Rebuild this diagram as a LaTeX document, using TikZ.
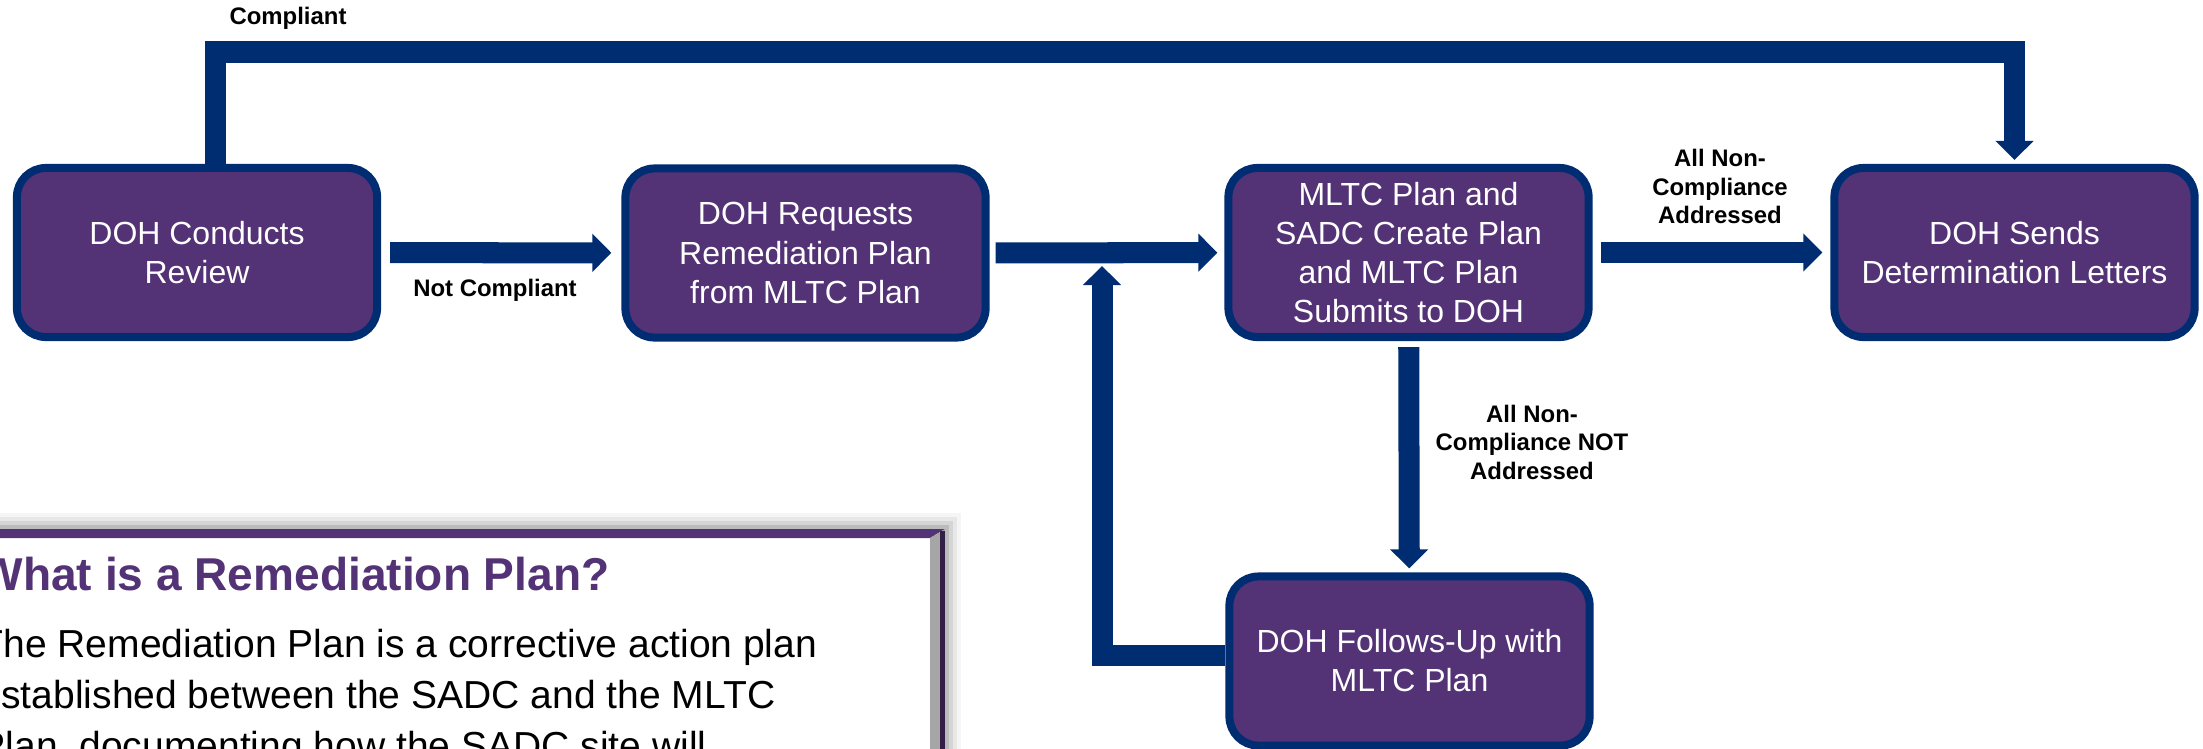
\documentclass[tikz,border=0pt]{standalone}
\usepackage{fontspec}
\setmainfont{Liberation Sans}
\usetikzlibrary{arrows.meta}

\definecolor{dohnavy}{RGB}{0,45,114}
\definecolor{dohpurple}{RGB}{83,50,118}

\begin{document}
\begin{tikzpicture}[x=0.01cm, y=-0.01cm,
    stepbox/.style={rectangle, rounded corners=0.29cm, draw=dohnavy, line width=0.08cm,
      fill=dohpurple, text=white, minimum width=3.6cm, minimum height=1.69cm,
      inner sep=0pt, align=center, font=\fontsize{9.1}{11.1}\selectfont},
    flowline/.style={draw=dohnavy, line width=0.21cm,
      -{Triangle[length=0.19cm, width=0.37cm]}},
    edgetag/.style={align=center, inner sep=0pt, font=\bfseries\fontsize{6.8}{8.1}\selectfont}]

  \useasboundingbox (0,0) rectangle (2203,748);
  \clip (0,0) rectangle (2203,748);

  % note box at the bottom left, with a soft shadow and bevelled frame
  \foreach \s/\o in {16/0.04, 12/0.06, 8/0.08, 4/0.12}
    \fill[black, opacity=\o] (-80-\s,529-\s) rectangle (945+\s,800);
  \fill[white] (-80,529) rectangle (945,800);
  \fill[dohpurple] (-80,529) -- (945,529) -- (930,538) -- (-80,538) -- cycle;
  \fill[gray!70] (930,538) -- (945,529) -- (945,800) -- (930,800) -- cycle;
  \fill[dohpurple!60!black] (940,531) rectangle (945,800);

  \node[anchor=base west, inner sep=0pt, text=dohpurple,
    font=\bfseries\fontsize{13.1}{15}\selectfont] (notetitle) at (-21,590)
    {What is a Remediation Plan?};
  % base of a multi-line node sits on its last line
  \node[anchor=base west, inner sep=0pt, align=left,
    font=\fontsize{11.1}{14.5}\selectfont] (notebody) at (-21,759)
    {The Remediation Plan is a corrective action plan\\
     established between the SADC and the MLTC\\
     Plan, documenting how the SADC site will};

  % process steps
  \node[stepbox] (review) at (197,252.5) {DOH Conducts\\Review};
  \node[stepbox] (request) at (805.5,253) {DOH Requests\\Remediation Plan\\from MLTC Plan};
  \node[stepbox] (create) at (1408.5,252.5) {MLTC Plan and\\SADC Create Plan\\and MLTC Plan\\Submits to DOH};
  \node[stepbox] (letters) at (2014.5,252.5) {DOH Sends\\Determination Letters};
  \node[stepbox] (followup) at (1409.5,661) {DOH Follows-Up with\\MLTC Plan};

  % connectors
  \coordinate (ctop) at (215.5,52);
  \coordinate (loopin) at (1102,266);

  \draw[flowline, shorten >=0.04cm] (review.north -| ctop) -- (ctop) -| (letters.north);
  \draw[flowline, shorten <=0.09cm, shorten >=0.1cm] (review) -- (request);
  \draw[flowline, shorten <=0.06cm, shorten >=0.07cm] (request) -- (create);
  \draw[flowline, shorten <=0.08cm, shorten >=0.08cm] (create) -- (letters);
  \draw[flowline, shorten <=0.06cm, shorten >=0.04cm] (create) -- (followup);
  \draw[flowline] ([yshift=0.06cm]followup.west) -| (loopin);

  % edge labels
  \node[edgetag] (tcomp) at (288,18) {Compliant};
  \node[edgetag] (tnotcomp) at (495,290) {Not Compliant};
  \node[edgetag] (taddr) at (1720,186.5) {All Non-\\Compliance\\Addressed};
  \node[edgetag] (tnotaddr) at (1532,442) {All Non-\\Compliance NOT\\Addressed};

\end{tikzpicture}
\end{document}
